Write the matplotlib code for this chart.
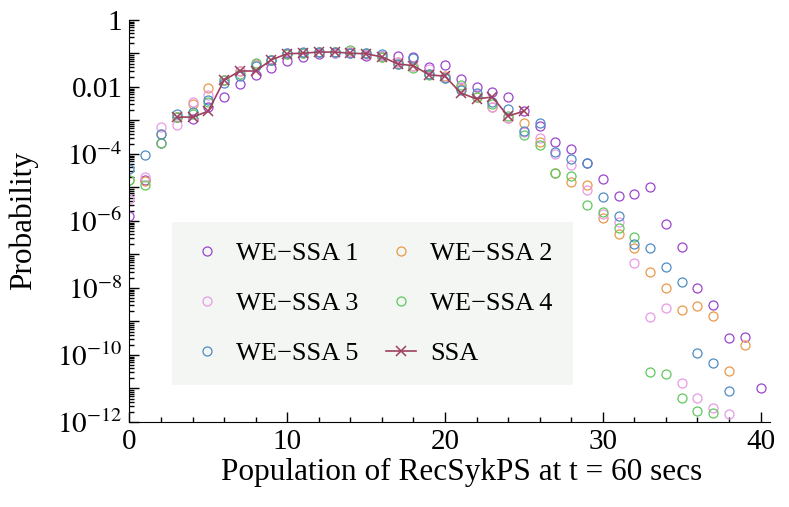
import numpy as np
import matplotlib
matplotlib.use("Agg")
import matplotlib.pyplot as plt

plt.rcParams["font.family"] = ["Liberation Serif", "DejaVu Serif"]
plt.rcParams["mathtext.fontset"] = "stix"

# population values
x = np.arange(0, 41)

# probabilities (nan = no point shown)
nan = np.nan
we1 = [1.4e-6, 1.7e-5, 2.1e-4, 1.3e-3, 1.1e-3, 2.5e-3, 5.0e-3, 1.23e-2, 2.3e-2, 3.7e-2,
       6.0e-2, 7.9e-2, 9.8e-2, 1.02e-1, 1.02e-1, 8.5e-2, 8.5e-2, 8.5e-2, 7.9e-2, 4.0e-2,
       4.6e-2, 1.74e-2, 1.0e-2, 7.1e-3, 5.0e-3, 1.9e-3, 6.9e-4, 2.3e-4, 1.4e-4, 5.4e-5,
       1.8e-5, 5.6e-6, 6.5e-6, 1.0e-5, 8.1e-7, 1.66e-7, 1.0e-8, 3.1e-9, 3.2e-10, 3.5e-10,
       1.0e-11]
we2 = [1.7e-5, 1.6e-5, 4.0e-4, 1.3e-3, 3.1e-3, 9.3e-3, 1.6e-2, 3.0e-2, 5.0e-2, 6.5e-2,
       9.8e-2, 1.02e-1, 1.1e-1, 1.1e-1, 1.1e-1, 9.8e-2, 7.9e-2, 5.6e-2, 4.3e-2, 2.5e-2,
       2.1e-2, 8.7e-3, 5.0e-3, 2.5e-3, 1.17e-3, 8.5e-4, 2.3e-4, 2.7e-5, 1.45e-5, 1.17e-5,
       1.23e-6, 4.1e-7, 1.55e-7, 3.0e-8, 1.0e-8, 2.2e-9, 2.9e-9, 1.45e-9, 3.3e-11, 2.0e-10,
       nan]
we3 = [4.6e-6, 2.0e-5, 6.5e-4, 7.4e-4, 3.5e-3, 5.8e-3, 1.6e-2, 3.0e-2, 4.5e-2, 6.5e-2,
       1.0e-1, 1.0e-1, 1.07e-1, 1.05e-1, 1.12e-1, 9.5e-2, 8.3e-2, 5.6e-2, 4.3e-2, 3.5e-2,
       2.0e-2, 1.0e-2, 6.3e-3, 2.5e-3, 1.17e-3, 4.5e-4, 3.0e-4, 1.0e-4, 4.7e-5, 8.5e-6,
       1.6e-6, 9.3e-7, 5.6e-8, 1.35e-9, 2.5e-9, 1.45e-11, 5.2e-12, 2.6e-12, 1.74e-12, nan,
       nan]
we4 = [1.66e-5, 1.17e-5, 2.2e-4, 1.3e-3, 1.6e-3, 3.5e-3, 1.6e-2, 2.5e-2, 5.2e-2, 6.5e-2,
       9.8e-2, 1.0e-1, 1.1e-1, 1.1e-1, 1.26e-1, 1.0e-1, 7.9e-2, 5.0e-2, 3.7e-2, 2.3e-2,
       1.86e-2, 1.15e-2, 5.0e-3, 3.2e-3, 1.4e-3, 3.7e-4, 1.86e-4, 2.7e-5, 2.2e-5, 3.0e-6,
       1.86e-6, 6.2e-7, 3.3e-7, 3.1e-11, 2.7e-11, 5.2e-12, 2.1e-12, 1.86e-12, nan, nan,
       nan]
we5 = [3.5e-5, 9.3e-5, 4.0e-4, 1.6e-3, 1.78e-3, 4.1e-3, 1.3e-2, 2.1e-2, 4.3e-2, 6.5e-2,
       1.0e-1, 1.1e-1, 1.1e-1, 1.1e-1, 1.05e-1, 1.0e-1, 9.8e-2, 5.0e-2, 7.4e-2, 2.5e-2,
       1.86e-2, 7.9e-3, 6.6e-3, 3.5e-3, 2.2e-3, 4.9e-4, 8.5e-4, 1.15e-4, 7.1e-5, 5.4e-5,
       5.2e-6, 1.4e-6, 2.0e-7, 1.55e-7, 4.3e-8, 1.5e-8, 1.15e-10, 5.8e-11, 8.5e-12, 7.1e-13,
       nan]
ssa_x = np.arange(3, 26)
ssa = [1.26e-3, 1.26e-3, 1.9e-3, 1.6e-2, 3.0e-2, 3.0e-2, 6.5e-2, 9.8e-2, 1.02e-1, 1.1e-1,
       1.1e-1, 1.02e-1, 9.8e-2, 7.9e-2, 4.9e-2, 4.3e-2, 2.3e-2, 2.1e-2, 6.6e-3, 4.4e-3,
       5.0e-3, 1.35e-3, 1.9e-3]

labels = ["WE\u2212SSA 1", "WE\u2212SSA 2", "WE\u2212SSA 3", "WE\u2212SSA 4", "WE\u2212SSA 5"]
colors = ["#9a45cc", "#e9994a", "#e79be6", "#5fc85f", "#4f8cc4"]
ssa_color = "#a0405f"

fig = plt.figure(figsize=(7.89, 5.07), dpi=100)
ax = fig.add_axes([0.1641, 0.1677, 0.8118, 0.7929])

handles = []
for series, lab, col in zip([we1, we2, we3, we4, we5], labels, colors):
    h, = ax.plot(x, series, "o", ls="none", ms=6.5, mfc="none", mec=col, mew=0.9,
                 label=lab)
    handles.append(h)
hs, = ax.plot(ssa_x, ssa, "-x", color=ssa_color, lw=1.2, ms=7, mew=1.1, label="SSA")

ax.set_yscale("log")
ax.set_xlim(0, 40.6)
ax.set_ylim(1e-12, 1)

for s in ["top", "right"]:
    ax.spines[s].set_visible(False)

ax.set_xticks([0, 10, 20, 30, 40])
ax.set_xticks(np.arange(0, 41, 2), minor=True)

major_y = [10.0 ** k for k in range(-12, 1)]
major_lab = []
for k in range(-12, 1):
    if k == 0:
        major_lab.append("1")
    elif k == -2:
        major_lab.append("0.01")
    elif k % 2 == 0:
        major_lab.append(r"$10^{%d}$" % k)
    else:
        major_lab.append("")
ax.set_yticks(major_y)
ax.set_yticklabels(major_lab)
minor_y = [m * 10.0 ** k for k in range(-12, 0) for m in range(2, 10)]
ax.set_yticks(minor_y, minor=True)
ax.yaxis.set_minor_formatter(matplotlib.ticker.NullFormatter())

ax.tick_params(which="both", direction="in", top=False, right=False, labelsize=21, width=1.0)
ax.tick_params(which="major", length=7, pad=5)
ax.tick_params(which="minor", length=3.5)

ax.set_xlabel("Population of RecSykPS at t = 60 secs", fontsize=22.5)
ax.set_ylabel("Probability", fontsize=22.5)
ax.xaxis.set_label_coords(0.519, -0.09)
ax.yaxis.set_label_coords(-0.142, 0.5)

order = [handles[0], handles[2], handles[4], handles[1], handles[3], hs]
leg = ax.legend(order, [h.get_label() for h in order], ncol=2, loc="lower left",
                bbox_to_anchor=(0.066, 0.092, 0.626, 0.403), mode="expand",
                fontsize=19, frameon=True, fancybox=False, edgecolor="none",
                facecolor="#f3f6f3", framealpha=1.0, handlelength=1.15,
                handletextpad=0.55, columnspacing=1.0, labelspacing=1.0,
                borderpad=0.75, borderaxespad=0.0)

fig.savefig("out.png", dpi=100)
